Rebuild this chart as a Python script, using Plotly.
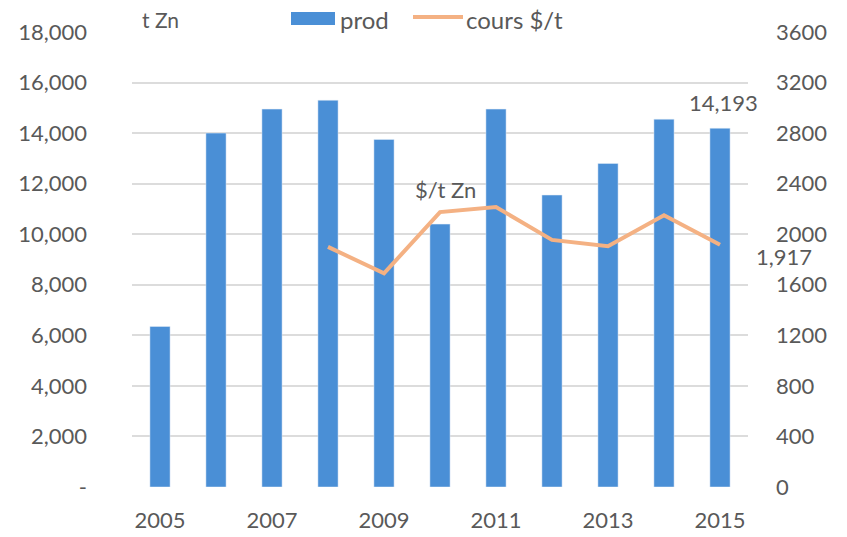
import plotly.graph_objects as go

years = [2005, 2006, 2007, 2008, 2009, 2010, 2011, 2012, 2013, 2014, 2015]
prod = [6350, 14000, 14950, 15300, 13750, 10400, 14950, 11550, 12800, 14550, 14193]
price_years = [2008, 2009, 2010, 2011, 2012, 2013, 2014, 2015]
price = [1900, 1690, 2175, 2215, 1955, 1905, 2150, 1917]

left_ticks = [0, 2000, 4000, 6000, 8000, 10000, 12000, 14000, 16000, 18000]
left_labels = ["-", "2,000", "4,000", "6,000", "8,000", "10,000", "12,000", "14,000", "16,000", "18,000"]
right_ticks = [0, 400, 800, 1200, 1600, 2000, 2400, 2800, 3200, 3600]
x_ticks = [2005, 2007, 2009, 2011, 2013, 2015]

font_c = "#595959"
fam = "Lato, Open Sans, sans-serif"
FS = 22
LFS = 24
BAR_C = "#4a8fd6"
LINE_C = "#f4b183"

W, H = 847, 537
PL, PR, PT, PB = 132, 748, 32, 487
PW, PH = PR - PL, PB - PT

def px(xpix):
    return (xpix - PL) / PW

def py(ypix):
    return (PB - ypix) / PH

fig = go.Figure()
fig.add_trace(go.Bar(x=years, y=prod, name="prod", marker=dict(color=BAR_C),
                     width=0.36, showlegend=False))
fig.add_trace(go.Scatter(x=price_years, y=price, name="cours $/t", yaxis="y2",
                         mode="lines", line=dict(color=LINE_C, width=4), showlegend=False))

fig.add_annotation(x=years[-1], y=prod[-1], text="14,193", showarrow=False,
                   yshift=26, xshift=3, font=dict(size=FS, color=font_c, family=fam))
fig.add_annotation(x=price_years[-1], y=price[-1], yref="y2", text="1,917", showarrow=False,
                   xanchor="left", xshift=34, yshift=-12, font=dict(size=FS, color=font_c, family=fam))
fig.add_annotation(x=2010.0, y=2180, yref="y2", text="$/t Zn", showarrow=False,
                   xshift=5, yshift=22, font=dict(size=FS, color=font_c, family=fam))

fig.add_annotation(xref="paper", yref="paper", x=px(140), y=py(19),
                   text="t Zn", showarrow=False, xanchor="left", yanchor="middle",
                   font=dict(size=FS - 1, color=font_c, family=fam))
# legend: bar swatch + label, line swatch + label
fig.add_shape(type="rect", xref="paper", yref="paper",
              x0=px(291), x1=px(335), y0=py(25), y1=py(12),
              fillcolor=BAR_C, line=dict(width=0))
fig.add_annotation(xref="paper", yref="paper", x=px(338), y=py(19),
                   text="prod", showarrow=False, xanchor="left", yanchor="middle",
                   font=dict(size=LFS, color=font_c, family=fam))
fig.add_shape(type="line", xref="paper", yref="paper",
              x0=px(413), x1=px(463), y0=py(17), y1=py(17),
              line=dict(color=LINE_C, width=4))
fig.add_annotation(xref="paper", yref="paper", x=px(464), y=py(19),
                   text="cours $/t", showarrow=False, xanchor="left", yanchor="middle",
                   font=dict(size=LFS, color=font_c, family=fam))

fig.update_layout(
    width=W, height=H,
    margin=dict(l=PL, r=W - PR, t=PT, b=H - PB, autoexpand=False),
    plot_bgcolor="white", paper_bgcolor="white",
    font=dict(family=fam, size=FS, color=font_c),
    showlegend=False,
    xaxis=dict(range=[2004.5, 2015.5], tickvals=x_ticks, showgrid=False, zeroline=False,
               showline=False, ticks="", ticklabelstandoff=18,
               tickfont=dict(size=FS, color=font_c)),
    yaxis=dict(range=[0, 18000], tickvals=left_ticks, ticktext=left_labels,
               showgrid=True, gridcolor="#dcdcdc", gridwidth=1.5, zeroline=False,
               ticks="", ticklabelstandoff=44, tickfont=dict(size=FS, color=font_c)),
    yaxis2=dict(range=[0, 3600], tickvals=right_ticks, overlaying="y", side="right",
                showgrid=False, zeroline=False, ticks="", ticklabelstandoff=27,
                tickfont=dict(size=FS, color=font_c)),
)

fig.write_html("out.html", config={"displayModeBar": False},
               post_script="document.body.style.margin='0px';")
